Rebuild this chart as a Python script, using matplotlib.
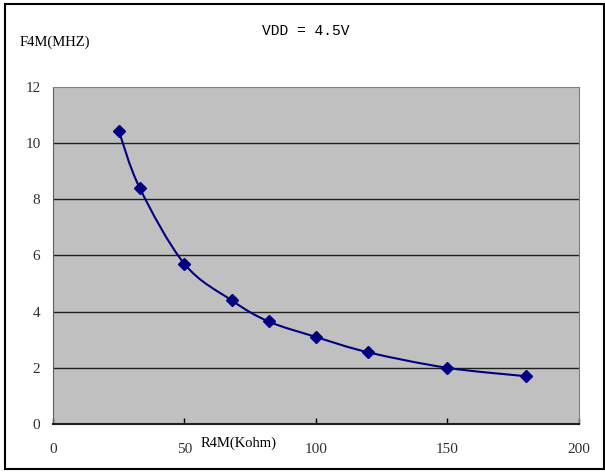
import matplotlib
matplotlib.use('Agg')
import matplotlib.pyplot as plt
from matplotlib.path import Path
from matplotlib.patches import PathPatch, Rectangle
import numpy as np

# R4M (Kohm) vs F4M (MHz) at VDD = 4.5V
r4m = [25, 33, 50, 68, 82, 100, 120, 150, 180]
f4m = [10.45, 8.4, 5.7, 4.4, 3.65, 3.1, 2.55, 2.0, 1.7]
xticks = [0, 50, 100, 150, 200]
yticks = [0, 2, 4, 6, 8, 10, 12]

NAVY = '#000080'
serif = ['Liberation Serif', 'DejaVu Serif']


def smooth_path(xs, ys, t=0.5):
	# cardinal spline through the points, drawn as cubic bezier segments
	xs = np.asarray(xs, float)
	ys = np.asarray(ys, float)
	n = len(xs)
	verts = [(xs[0], ys[0])]
	codes = [Path.MOVETO]
	for i in range(n - 1):
		p0 = (xs[max(i - 1, 0)], ys[max(i - 1, 0)])
		p1 = (xs[i], ys[i])
		p2 = (xs[i + 1], ys[i + 1])
		p3 = (xs[min(i + 2, n - 1)], ys[min(i + 2, n - 1)])
		c1 = (p1[0] + (p2[0] - p0[0]) * t / 3, p1[1] + (p2[1] - p0[1]) * t / 3)
		c2 = (p2[0] - (p3[0] - p1[0]) * t / 3, p2[1] - (p3[1] - p1[1]) * t / 3)
		verts += [c1, c2, p2]
		codes += [Path.CURVE4] * 3
	return Path(verts, codes)


fig = plt.figure(figsize=(6.05, 4.75), dpi=100)
fig.patch.set_facecolor('white')
fig.patches.append(Rectangle((0.009, 0.012), 0.989, 0.98, transform=fig.transFigure,
	fill=False, edgecolor='black', linewidth=1.5))

ax = fig.add_axes([0.0876, 0.1074, 0.869, 0.7095])
ax.set_facecolor('#c0c0c0')
ax.set_xlim(0, 200)
ax.set_ylim(0, 12)

for y in yticks[1:-1]:
	ax.axhline(y, color='#202020', linewidth=1.0, zorder=1)

ax.add_patch(PathPatch(smooth_path(r4m, f4m), facecolor='none', edgecolor=NAVY,
	linewidth=1.5, zorder=3))
ax.plot(r4m, f4m, linestyle='none', marker='D', markersize=6, color=NAVY, zorder=4)

ax.set_xticks(xticks)
ax.set_yticks(yticks)
ax.tick_params(axis='x', direction='in', length=4, width=1, pad=14, labelsize=11,
	labelcolor='#303030')
ax.tick_params(axis='y', length=0, pad=9, labelsize=11, labelcolor='#303030')
for lab in ax.get_xticklabels() + ax.get_yticklabels():
	lab.set_family(serif)

ax.spines['bottom'].set_color('#202020')
ax.spines['bottom'].set_linewidth(1.5)
ax.spines['left'].set_color('#606060')
ax.spines['top'].set_color('#808080')
ax.spines['right'].set_color('#808080')
for s in ax.spines.values():
	s.set_zorder(5)

fig.text(0.505, 0.935, 'VDD = 4.5V', ha='center', va='center', fontsize=10.5,
	family=['Liberation Mono', 'DejaVu Sans Mono'])
fig.text(0.033, 0.91, 'F4M(MHZ)', ha='left', va='center', fontsize=10.5, family=serif)
ax.text(70.5, -0.68, 'R4M(Kohm)', ha='center', va='center', fontsize=10.5, family=serif,
	clip_on=False)

plt.savefig('out.png', dpi=100)
